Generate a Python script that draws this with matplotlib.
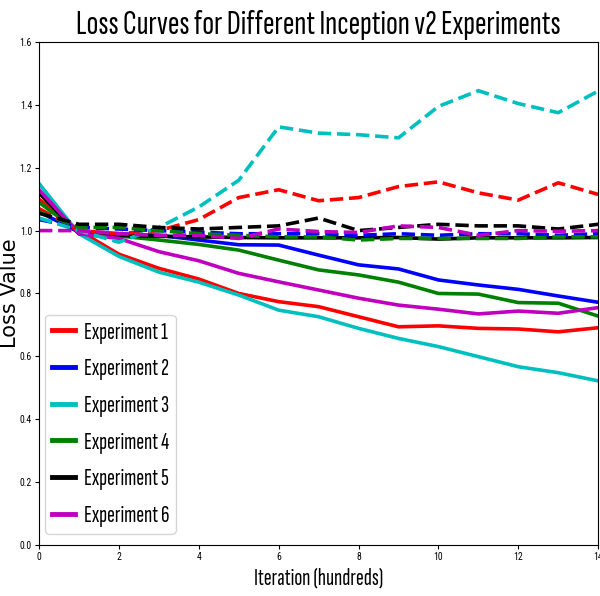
import matplotlib
matplotlib.use("Agg")
import matplotlib.pyplot as plt

plt.rcParams['font.family'] = ['Sofia Sans Extra Condensed', 'DejaVu Sans']

iterations = list(range(15))
labels = ['Experiment 1', 'Experiment 2', 'Experiment 3',
          'Experiment 4', 'Experiment 5', 'Experiment 6']
colors = ['r', 'b', 'c', 'g', 'k', 'm']

# solid curves
train_exp1 = [1.10, 1.00, 0.925, 0.88, 0.846, 0.80, 0.774, 0.758, 0.726, 0.694, 0.697, 0.689, 0.687, 0.678, 0.691]
train_exp2 = [1.06, 0.995, 0.99, 0.985, 0.970, 0.955, 0.954, 0.922, 0.891, 0.878, 0.843, 0.827, 0.813, 0.792, 0.772]
train_exp3 = [1.15, 0.99, 0.918, 0.868, 0.836, 0.795, 0.747, 0.726, 0.689, 0.657, 0.631, 0.599, 0.567, 0.548, 0.522]
train_exp4 = [1.09, 0.995, 0.983, 0.970, 0.956, 0.938, 0.906, 0.875, 0.859, 0.836, 0.800, 0.798, 0.771, 0.769, 0.728]
train_exp5 = [1.12, 0.99, 0.985, 0.982, 0.98, 0.978, 0.977, 0.977, 0.977, 0.978, 0.973, 0.977, 0.977, 0.977, 0.978]
train_exp6 = [1.13, 0.99, 0.975, 0.933, 0.904, 0.864, 0.837, 0.811, 0.785, 0.763, 0.750, 0.735, 0.744, 0.737, 0.755]

# dashed curves
val_exp1 = [1.07, 1.00, 0.99, 1.00, 1.035, 1.105, 1.13, 1.095, 1.105, 1.14, 1.155, 1.12, 1.097, 1.152, 1.115]
val_exp2 = [1.035, 1.01, 1.005, 1.0, 0.995, 0.99, 0.99, 0.99, 0.985, 0.99, 0.985, 0.99, 0.99, 0.985, 0.99]
val_exp3 = [1.04, 1.0, 0.963, 1.01, 1.075, 1.16, 1.33, 1.31, 1.305, 1.295, 1.395, 1.445, 1.404, 1.375, 1.444]
val_exp4 = [1.06, 1.01, 1.01, 1.0, 0.99, 0.985, 0.98, 0.98, 0.97, 0.975, 0.975, 0.975, 0.975, 0.98, 0.98]
val_exp5 = [1.055, 1.02, 1.02, 1.01, 1.005, 1.01, 1.015, 1.04, 1.0, 1.01, 1.02, 1.015, 1.015, 1.005, 1.02]
val_exp6 = [1.0, 1.0, 0.99, 0.985, 0.985, 0.975, 1.005, 0.997, 0.994, 1.015, 1.01, 0.985, 1.0, 0.998, 1.0]

train = [train_exp1, train_exp2, train_exp3, train_exp4, train_exp5, train_exp6]
val = [val_exp1, val_exp2, val_exp3, val_exp4, val_exp5, val_exp6]

fig = plt.figure(figsize=(6.0, 5.96), dpi=100)
ax = fig.add_axes([0.065, 0.0856, 0.932, 0.844])

for y, c, lab in zip(train, colors, labels):
    ax.plot(iterations, y, color=c, lw=2.6, label=lab)
for y, c in zip(val, colors):
    ax.plot(iterations, y, color=c, lw=2.6, ls='--')

ax.set_xlim(0, 14)
ax.set_ylim(0, 1.6)
ax.set_xticks(range(0, 15, 2))
ax.set_yticks([0.0, 0.2, 0.4, 0.6, 0.8, 1.0, 1.2, 1.4, 1.6])
ax.tick_params(labelsize=7, length=3, pad=2)
for t in ax.get_xticklabels() + ax.get_yticklabels():
    t.set_family(['Roboto Condensed', 'DejaVu Sans'])

ax.set_title('Loss Curves for Different Inception v2 Experiments', fontsize=25, pad=6)
ax.set_xlabel('Iteration (hundreds)', fontsize=17, labelpad=4)
ax.set_ylabel('Loss Value', fontsize=15, family='DejaVu Sans')
ax.yaxis.set_label_coords(-0.034, 0.5)

leg = ax.legend(loc='lower left', bbox_to_anchor=(0.01, 0.022), borderaxespad=0,
                fontsize=17, handlelength=1.0, labelspacing=0.62, handletextpad=0.35,
                borderpad=0.3)
for line in leg.get_lines():
    line.set_linewidth(3.5)

fig.savefig('out.png', dpi=100)
